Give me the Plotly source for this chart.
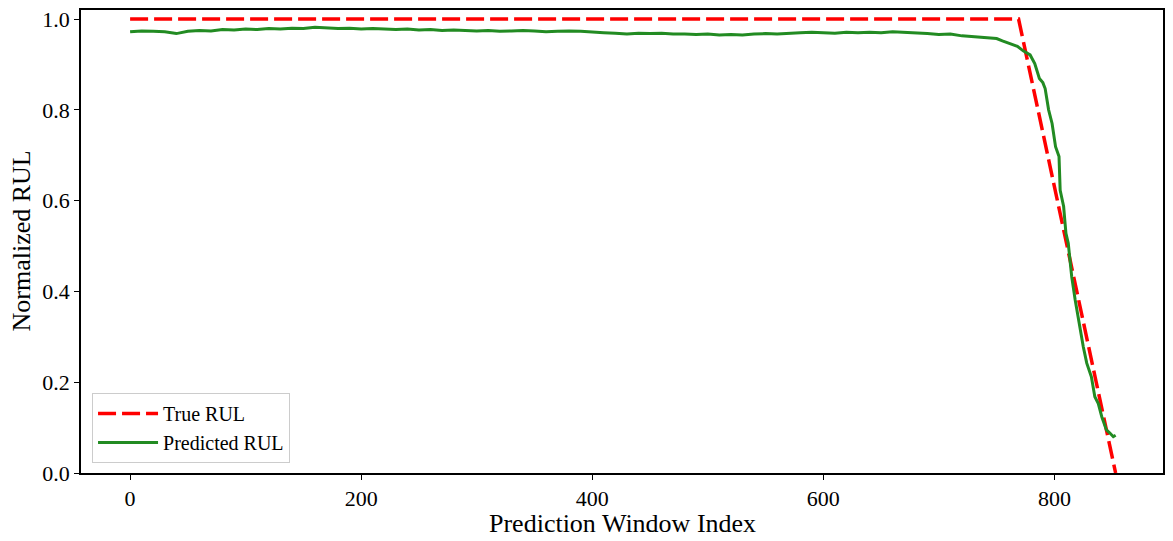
import plotly.graph_objects as go

# True RUL: flat at 1 until the knee, then linear to 0
true_idx = [0, 769, 853]
true_rul = [1.0, 1.0, 0.0]

# Predicted RUL
pred_idx = [0, 10, 20, 30, 40, 50, 60, 70, 80, 90,
            100, 110, 120, 130, 140, 150, 160, 170, 180, 190,
            200, 210, 220, 230, 240, 250, 260, 270, 280, 290,
            300, 310, 320, 330, 340, 350, 360, 370, 380, 390,
            400, 410, 420, 430, 440, 450, 460, 470, 480, 490,
            500, 510, 520, 530, 540, 550, 560, 570, 580, 590,
            600, 610, 620, 630, 640, 650, 660, 670, 680, 690,
            700, 710, 720, 730, 740, 750, 755, 762, 768, 773,
            779, 783, 787, 790, 792, 795, 798, 801, 804, 805,
            807, 808, 809, 810, 812, 815, 818, 820, 822, 825,
            828, 832, 835, 838, 841, 845, 848, 851, 853]
pred_rul = [0.972, 0.974, 0.973, 0.972, 0.968, 0.973, 0.975, 0.974, 0.977, 0.976,
            0.978, 0.977, 0.979, 0.978, 0.980, 0.979, 0.982, 0.980, 0.979, 0.980,
            0.978, 0.979, 0.978, 0.977, 0.978, 0.976, 0.977, 0.975, 0.976, 0.975,
            0.974, 0.975, 0.973, 0.974, 0.975, 0.974, 0.972, 0.973, 0.974, 0.973,
            0.971, 0.970, 0.969, 0.967, 0.969, 0.968, 0.969, 0.967, 0.967, 0.966,
            0.967, 0.965, 0.966, 0.965, 0.967, 0.968, 0.967, 0.969, 0.970, 0.971,
            0.970, 0.969, 0.971, 0.970, 0.971, 0.970, 0.972, 0.971, 0.970, 0.968,
            0.966, 0.967, 0.963, 0.961, 0.960, 0.957, 0.952, 0.946, 0.940, 0.930,
            0.921, 0.902, 0.869, 0.860, 0.847, 0.800, 0.770, 0.719, 0.697, 0.623,
            0.594, 0.587, 0.557, 0.528, 0.506, 0.432, 0.381, 0.350, 0.322, 0.278,
            0.242, 0.212, 0.168, 0.153, 0.124, 0.095, 0.088, 0.080, 0.083]

x_ticks = [0, 200, 400, 600, 800]
y_ticks = [0.0, 0.2, 0.4, 0.6, 0.8, 1.0]

font = "Liberation Serif"

fig = go.Figure()

fig.add_trace(go.Scatter(x=true_idx, y=true_rul, mode="lines",
                         name="True RUL",
                         line=dict(color="#ff0000", width=3.5, dash="18px,6px")))
fig.add_trace(go.Scatter(x=pred_idx, y=pred_rul, mode="lines",
                         name="Predicted RUL",
                         line=dict(color="#228b22", width=3)))

# page body has an 8px margin, so the figure is sized and placed to allow for it
fig.update_layout(
    width=1157, height=525,
    margin=dict(l=73, r=2, t=2, b=60),
    paper_bgcolor="white", plot_bgcolor="white",
    font=dict(family=font, size=22, color="black"),
    showlegend=True,
    legend=dict(x=0.0102, y=0.0216, xanchor="left", yanchor="bottom",
                bgcolor="rgba(255,255,255,0.8)", bordercolor="#cccccc",
                borderwidth=1, font=dict(family=font, size=20),
                tracegroupgap=4, itemwidth=60),
)

fig.update_xaxes(range=[-42.5, 894], tickvals=x_ticks, automargin=False,
                 tickfont=dict(family=font, size=22), ticklabeloverflow="allow",
                 showgrid=False, zeroline=False,
                 showline=True, linecolor="black", linewidth=1.5, mirror=True,
                 ticks="outside", ticklen=5, tickwidth=1.2, tickcolor="black")
fig.update_yaxes(range=[0, 1.02], tickvals=y_ticks, tickformat=".1f", automargin=False,
                 tickfont=dict(family=font, size=22), ticklabeloverflow="allow",
                 showgrid=False, zeroline=False,
                 showline=True, linecolor="black", linewidth=1.5, mirror=True,
                 ticks="outside", ticklen=5, tickwidth=1.2, tickcolor="black")

# axis titles placed as annotations so their distance from the axes is exact
fig.add_annotation(text="Prediction Window Index", xref="paper", yref="paper",
                   x=0.5, y=0, xanchor="center", yanchor="middle", yshift=-50,
                   showarrow=False, font=dict(family=font, size=26))
fig.add_annotation(text="Normalized RUL", xref="paper", yref="paper",
                   x=0, y=0.5, xanchor="center", yanchor="middle", xshift=-60,
                   textangle=-90, showarrow=False, font=dict(family=font, size=26))

fig.write_html("out.html")
